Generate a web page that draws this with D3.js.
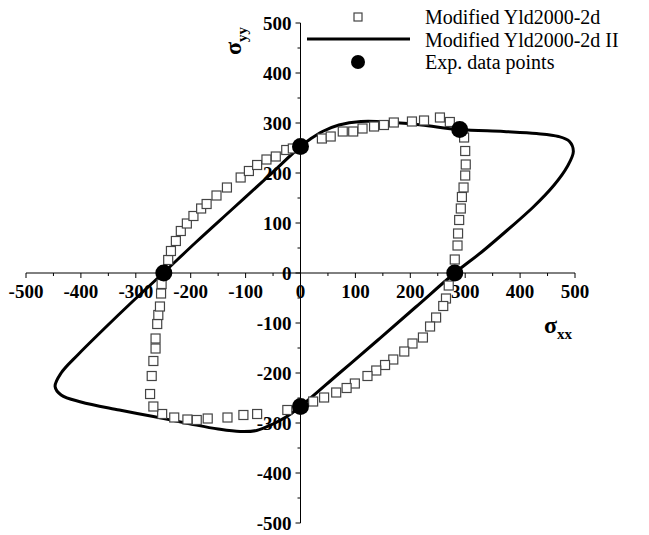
<!DOCTYPE html>
<html>
<head>
<meta charset="utf-8">
<script src="https://cdn.jsdelivr.net/npm/d3@7"></script>
<style>
  body { margin: 0; background: #fff; }
  svg text { font-family: "Liberation Serif", "Times New Roman", serif; }
</style>
</head>
<body>
<div id="chart"></div>
<script>
// Chart size
var width = 649
var height = 535

// Tick labels
var ticks = [-500, -400, -300, -200, -100, 0, 100, 200, 300, 400, 500]
var minorTicks = [-450, -350, -250, -150, -50, 50, 150, 250, 350, 450]

// Modified Yld2000-2d (squares)
var yldX = [-241, -236, -227, -218, -207, -195, -181, -171, -153, -134, -109, -94, -79, -62, -45, -26, -14,
  39, 55, 77, 96, 113, 134, 152, 170, 203, 225, 254, 272,
  298, 300, 301, 300, 297, 294, 292, 289, 287, 286, 281,
  270, 265, 260, 247, 236, 223, 204, 189, 169, 154, 138, 122, 99, 84, 65, 43, 23, -24,
  -79, -104, -133, -169, -189, -206, -230, -252, -268, -274, -271, -268, -264, -264, -261, -259, -256, -254, -253]
var yldY = [26, 44, 64, 84, 99, 114, 129, 138, 155, 171, 191, 204, 216, 227, 233, 246, 249,
  269, 273, 283, 283, 289, 293, 296, 301, 303, 305, 311, 302,
  271, 244, 217, 195, 171, 152, 129, 106, 79, 55, 27,
  -25, -51, -66, -89, -107, -129, -141, -157, -173, -184, -195, -206, -221, -230, -239, -249, -257, -274,
  -282, -284, -289, -291, -294, -293, -289, -282, -267, -242, -206, -176, -151, -131, -102, -84, -67, -41, -22]

// Modified Yld2000-2d II (closed curve)
var yld2X = [0, 70, 140, 210, 281, 330, 377, 424, 462, 486, 497, 490, 470, 430, 370, 290, 220, 160, 110, 70, 40, 18,
  0, -60, -125, -190, -250, -305, -360, -405, -436, -447, -436, -400, -330, -268, -200, -150, -110, -80, -50, -25]
var yld2Y = [-267, -201, -135, -68, 0, 42, 86, 132, 176, 213, 243, 263, 273, 279, 283, 287, 296, 302, 303, 296, 283, 268,
  253, 192, 127, 62, 0, -56, -114, -163, -200, -227, -244, -258, -274, -287, -302, -312, -317, -315, -302, -287]

// Exp. data points
var expX = [-249, 0, 290, 281, 0]
var expY = [0, 253, 287, 0, -267]

var legendLabels = ["Modified Yld2000-2d", "Modified Yld2000-2d II", "Exp. data points"]

var x = d3.scaleLinear().domain([-500, 500]).range([26, 575])
var y = d3.scaleLinear().domain([-500, 500]).range([523, 23])

var svg = d3.select("#chart").append("svg")
    .attr("width", width)
    .attr("height", height)

// Axes through the origin
var axes = svg.append("g").attr("stroke", "#000").attr("stroke-width", 1)
axes.append("line")
    .attr("x1", x(-500)).attr("x2", x(500))
    .attr("y1", y(0)).attr("y2", y(0))
axes.append("line")
    .attr("x1", x(0)).attr("x2", x(0))
    .attr("y1", y(-500)).attr("y2", y(500))

// x ticks
axes.selectAll(".xmaj").data(ticks).enter().append("line")
    .attr("x1", d => x(d)).attr("x2", d => x(d))
    .attr("y1", y(0)).attr("y2", y(0) + 5)
axes.selectAll(".xmin").data(minorTicks).enter().append("line")
    .attr("x1", d => x(d)).attr("x2", d => x(d))
    .attr("y1", y(0)).attr("y2", y(0) + 3)
// y ticks
axes.selectAll(".ymaj").data(ticks).enter().append("line")
    .attr("y1", d => y(d)).attr("y2", d => y(d))
    .attr("x1", x(0)).attr("x2", x(0) - 5)
axes.selectAll(".ymin").data(minorTicks).enter().append("line")
    .attr("y1", d => y(d)).attr("y2", d => y(d))
    .attr("x1", x(0)).attr("x2", x(0) - 3)

// tick labels
svg.selectAll(".xlab").data(ticks).enter().append("text")
    .attr("x", d => x(d))
    .attr("y", y(0) + 25)
    .attr("text-anchor", "middle")
    .attr("font-size", 19)
    .attr("font-weight", "bold")
    .text(d => d)
svg.selectAll(".ylab").data(ticks).enter().append("text")
    .attr("x", x(0) - 9)
    .attr("y", d => y(d) + 7)
    .attr("text-anchor", "end")
    .attr("font-size", 19)
    .attr("font-weight", "bold")
    .text(d => d)

// axis titles
var xt = svg.append("text")
    .attr("x", 544).attr("y", 333)
    .attr("font-size", 24).attr("font-weight", "bold")
xt.append("tspan").text("σ")
xt.append("tspan").attr("font-size", 15).attr("dy", 6).text("xx")

var yt = svg.append("text")
    .attr("transform", "translate(241,55) rotate(-90)")
    .attr("font-size", 24).attr("font-weight", "bold")
yt.append("tspan").text("σ")
yt.append("tspan").attr("font-size", 15).attr("dy", 6).text("yy")

// curve
var line = d3.line()
    .x(d => x(d[0]))
    .y(d => y(d[1]))
    .curve(d3.curveCatmullRomClosed.alpha(0.5))

svg.append("path")
    .datum(d3.zip(yld2X, yld2Y))
    .attr("d", line)
    .attr("fill", "none")
    .attr("stroke", "#000")
    .attr("stroke-width", 3)

// squares
svg.selectAll(".sq").data(d3.zip(yldX, yldY)).enter().append("rect")
    .attr("x", d => x(d[0]) - 4.5)
    .attr("y", d => y(d[1]) - 4.5)
    .attr("width", 9).attr("height", 9)
    .attr("fill", "#fff")
    .attr("stroke", "#444")
    .attr("stroke-width", 1.2)

// exp points
svg.selectAll(".dot").data(d3.zip(expX, expY)).enter().append("circle")
    .attr("cx", d => x(d[0]))
    .attr("cy", d => y(d[1]))
    .attr("r", 8.5)
    .attr("fill", "#000")

// legend
var legend = svg.append("g")
legend.append("rect")
    .attr("x", 354).attr("y", 13).attr("width", 8).attr("height", 8)
    .attr("fill", "#fff").attr("stroke", "#444").attr("stroke-width", 1.2)
legend.append("line")
    .attr("x1", 307).attr("x2", 410).attr("y1", 39).attr("y2", 39)
    .attr("stroke", "#000").attr("stroke-width", 3)
legend.append("circle")
    .attr("cx", 358).attr("cy", 62).attr("r", 7).attr("fill", "#000")
legend.selectAll(".lt").data(legendLabels).enter().append("text")
    .attr("x", 425)
    .attr("y", (d, i) => 24 + i * 22.5)
    .attr("font-size", 20)
    .text(d => d)
</script>
</body>
</html>
